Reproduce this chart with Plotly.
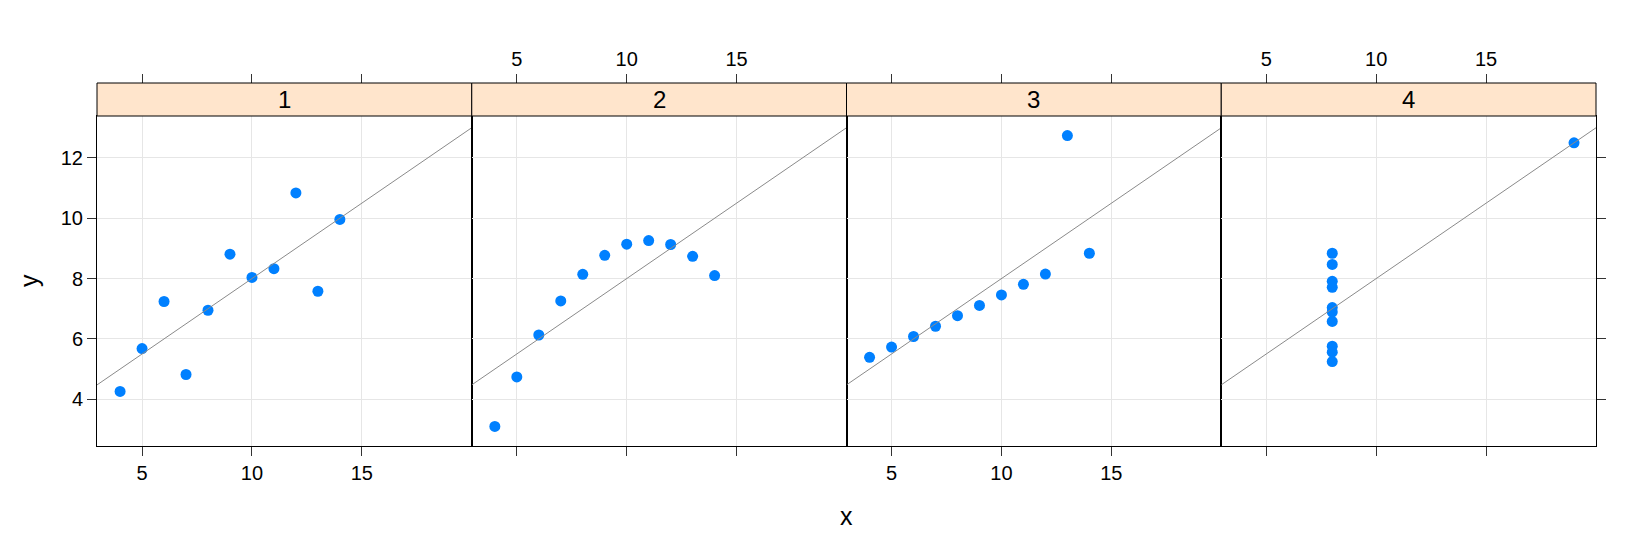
import numpy as np
import plotly.graph_objects as go

# Anscombe's quartet, one panel per set
panel_names = ["1", "2", "3", "4"]
x1 = [10, 8, 13, 9, 11, 14, 6, 4, 12, 7, 5]
y1 = [8.04, 6.95, 7.58, 8.81, 8.33, 9.96, 7.24, 4.26, 10.84, 4.82, 5.68]
x2 = [10, 8, 13, 9, 11, 14, 6, 4, 12, 7, 5]
y2 = [9.14, 8.14, 8.74, 8.77, 9.26, 8.10, 6.13, 3.10, 9.13, 7.26, 4.74]
x3 = [10, 8, 13, 9, 11, 14, 6, 4, 12, 7, 5]
y3 = [7.46, 6.77, 12.74, 7.11, 7.81, 8.84, 6.08, 5.39, 8.15, 6.42, 5.73]
x4 = [8, 8, 8, 8, 8, 8, 8, 19, 8, 8, 8]
y4 = [6.58, 5.76, 7.71, 8.84, 8.47, 7.04, 5.25, 12.50, 5.56, 7.91, 6.89]
x_ticks = [5, 10, 15]
y_ticks = [4, 6, 8, 10, 12]

xs = [x1, x2, x3, x4]
ys = [y1, y2, y3, y4]

# page body has an 8px margin, so the figure is a bit smaller than the window
W, H = 1642, 534
ml, mr, mt, mb = 89, 54, 75, 96
pw = W - ml - mr
ph = H - mt - mb
strip_h = 33
dtop = (ph - strip_h) / ph

x_range = [2.95, 20.0]
y_range = [2.45, 13.39]

FONT = "Liberation Sans, Arial, sans-serif"
tick_font = dict(family=FONT, size=20, color="black")
grid_col = "#e6e6e6"
tick_col = "#333333"

fig = go.Figure()
layout = {}

for i in range(4):
    k = i + 1
    sfx = "" if k == 1 else str(k)
    fig.add_trace(go.Scatter(x=xs[i], y=ys[i], mode="markers",
                             xaxis="x" + sfx, yaxis="y" + sfx,
                             marker=dict(color="#0080ff", size=11),
                             showlegend=False))
    # least squares line across the whole panel
    slope, icpt = np.polyfit(xs[i], ys[i], 1)
    fig.add_trace(go.Scatter(x=x_range, y=[icpt + slope * v for v in x_range],
                             mode="lines", xaxis="x" + sfx, yaxis="y" + sfx,
                             line=dict(color="#8a8a8a", width=1),
                             showlegend=False))

    layout["xaxis" + sfx] = dict(
        domain=[i / 4, (i + 1) / 4], anchor="y" + sfx, range=x_range,
        tickvals=x_ticks, ticks="outside", ticklen=9, tickcolor=tick_col,
        showticklabels=(k in (1, 3)), tickfont=tick_font,
        showgrid=True, gridcolor=grid_col, zeroline=False,
        showline=True, linecolor="black", linewidth=1, mirror=True)

    yax = dict(
        domain=[0, dtop], anchor="x" + sfx, range=y_range,
        tickvals=y_ticks, tickfont=tick_font, tickcolor=tick_col,
        showgrid=True, gridcolor=grid_col, zeroline=False,
        showline=True, linecolor="black", linewidth=1, mirror=True)
    if k == 1:
        yax.update(ticks="outside", ticklen=9, showticklabels=True)
    elif k == 4:
        yax.update(side="right", ticks="outside", ticklen=9, showticklabels=False)
    else:
        yax.update(ticks="", showticklabels=False)
    if k > 1:
        yax["matches"] = "y"
    layout["yaxis" + sfx] = yax

    # top axis sitting above the strip
    layout["xaxis" + str(4 + k)] = dict(
        overlaying="x" + sfx, anchor="free", position=1, side="top",
        range=x_range, tickvals=x_ticks, ticks="outside", ticklen=9,
        tickcolor=tick_col, showticklabels=(k in (2, 4)), tickfont=tick_font,
        showgrid=False, zeroline=False, showline=False)
    fig.add_trace(go.Scatter(x=[None], y=[None], xaxis="x" + str(4 + k),
                             yaxis="y" + sfx, showlegend=False, hoverinfo="skip"))

shapes = []
annotations = []
for i, name in enumerate(panel_names):
    shapes.append(dict(type="rect", xref="paper", yref="paper",
                       x0=i / 4, x1=(i + 1) / 4, y0=dtop, y1=1,
                       fillcolor="#ffe5cc", line=dict(color="black", width=1),
                       layer="above"))
    annotations.append(dict(text=name, xref="paper", yref="paper",
                            x=(i + 0.5) / 4, y=(1 + dtop) / 2, showarrow=False,
                            xanchor="center", yanchor="middle",
                            font=dict(family=FONT, size=24, color="black")))

annotations.append(dict(text="x", xref="paper", yref="paper", x=0.5,
                        y=-70 / ph, showarrow=False, yanchor="middle",
                        font=dict(family=FONT, size=25, color="black")))
annotations.append(dict(text="y", xref="paper", yref="paper", x=-68 / pw,
                        y=dtop / 2, showarrow=False, textangle=-90,
                        xanchor="center", yanchor="middle",
                        font=dict(family=FONT, size=25, color="black")))

fig.update_layout(
    width=W, height=H,
    margin=dict(l=ml, r=mr, t=mt, b=mb),
    plot_bgcolor="white", paper_bgcolor="white",
    shapes=shapes, annotations=annotations,
    **layout)

fig.write_html("out.html")
